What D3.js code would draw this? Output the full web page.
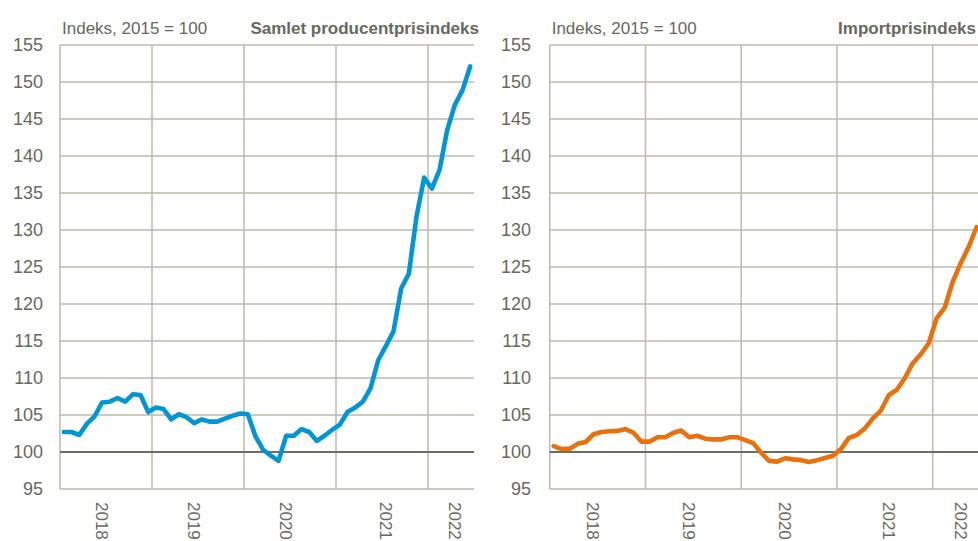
<!DOCTYPE html>
<html><head><meta charset="utf-8">
<script src="https://cdn.jsdelivr.net/npm/d3@7"></script>
<style>
html,body{margin:0;padding:0;background:#fff;}
svg{display:block;font-family:"Liberation Sans",Arial,sans-serif;}
</style></head>
<body><svg id="c" width="978" height="541"></svg>
<script>
// Months Jan 2018 .. Jun 2022 (54 months)
const yearLabels = ["2018","2019","2020","2021","2022"];
const yearLabelMonth = [5, 17, 29, 42, 51];
const yearStarts = [12, 24, 36, 48];
const yTicks = [95,100,105,110,115,120,125,130,135,140,145,150,155];

const producerIndex = [
  102.7,102.7,102.3,103.8,104.8,106.7,106.8,107.3,106.8,107.8,107.7,105.4,
  106.0,105.8,104.4,105.1,104.7,103.9,104.4,104.1,104.1,104.5,104.9,105.2,
  105.1,102.1,100.3,99.5,98.8,102.2,102.2,103.1,102.7,101.5,102.2,103.0,
  103.7,105.4,106.0,106.8,108.6,112.4,114.3,116.3,122.1,124.1,131.8,137.1,
  135.6,138.1,143.5,146.9,148.9,152.1
];
const importIndex = [
  100.8,100.4,100.45,101.1,101.35,102.4,102.7,102.8,102.85,103.1,102.6,101.4,
  101.4,102.0,102.0,102.6,102.9,102.0,102.2,101.8,101.7,101.7,102.0,102.0,
  101.6,101.2,99.9,98.8,98.7,99.15,99.0,98.9,98.65,98.9,99.2,99.5,
  100.4,101.9,102.3,103.2,104.55,105.6,107.7,108.4,110.0,112.0,113.2,114.7,
  118.1,119.5,123.0,125.5,127.7,130.4
];

const panels = [
  {title:"Samlet producentprisindeks", sub:"Indeks, 2015 = 100", data:producerIndex, color:"#0096d6",
   x0:60, x1:474, titleEnd:479, tickEnd:43},
  {title:"Importprisindeks", sub:"Indeks, 2015 = 100", data:importIndex, color:"#e8710d",
   x0:549.7, x1:980.6, titleEnd:976, tickEnd:531}
];

const svg = d3.select("#c");
const gridCol = "#bdb9ab", baseCol = "#6e6e5f", textCol = "#68685c";

panels.forEach(p => {
  const g = svg.append("g");
  const x = d3.scaleLinear().domain([0, 54]).range([p.x0, p.x1]);
  const y = d3.scaleLinear().domain([95, 155]).range([489, 45]);

  g.selectAll("line.h").data(yTicks.filter(t => t !== 100 && t !== 95)).enter().append("line")
    .attr("x1", p.x0).attr("x2", p.x1).attr("y1", d => y(d)).attr("y2", d => y(d))
    .attr("stroke", gridCol).attr("stroke-width", 1.5);
  g.selectAll("line.v").data(yearStarts).enter().append("line")
    .attr("x1", d => x(d)).attr("x2", d => x(d)).attr("y1", y(155)).attr("y2", y(95))
    .attr("stroke", gridCol).attr("stroke-width", 1.5);
  g.append("line").attr("x1", p.x0).attr("x2", p.x0).attr("y1", y(155)).attr("y2", y(95))
    .attr("stroke", gridCol).attr("stroke-width", 1.5);
  g.append("line").attr("x1", p.x0).attr("x2", p.x1).attr("y1", y(95)).attr("y2", y(95))
    .attr("stroke", gridCol).attr("stroke-width", 1.5);
  g.append("line").attr("x1", p.x0).attr("x2", p.x1).attr("y1", y(100)).attr("y2", y(100))
    .attr("stroke", baseCol).attr("stroke-width", 2.2);

  g.selectAll("text.yt").data(yTicks).enter().append("text")
    .attr("x", p.tickEnd).attr("y", d => y(d)).attr("dy", "0.36em")
    .attr("text-anchor", "end").attr("fill", textCol).attr("font-size", 18)
    .text(d => d);

  g.selectAll("text.xt").data(yearLabels).enter().append("text")
    .attr("transform", (d, i) => `translate(${x(yearLabelMonth[i] + 0.5)},502) rotate(90)`)
    .attr("dy", "0.36em").attr("text-anchor", "start")
    .attr("fill", textCol).attr("font-size", 17).text(d => d);

  const line = d3.line().x((d, i) => x(i + 0.5)).y(d => y(d));
  g.append("path").datum(p.data).attr("d", line).attr("fill", "none")
    .attr("stroke", p.color).attr("stroke-width", 4.6).attr("stroke-linejoin", "round")
    .attr("stroke-linecap", "round");

  g.append("text").attr("x", p.x0 + 2).attr("y", 34).attr("fill", textCol)
    .attr("font-size", 17).text(p.sub);
  g.append("text").attr("x", p.titleEnd).attr("y", 34).attr("text-anchor", "end")
    .attr("fill", textCol).attr("font-size", 17).attr("font-weight", "bold").text(p.title);
});
</script></body></html>
